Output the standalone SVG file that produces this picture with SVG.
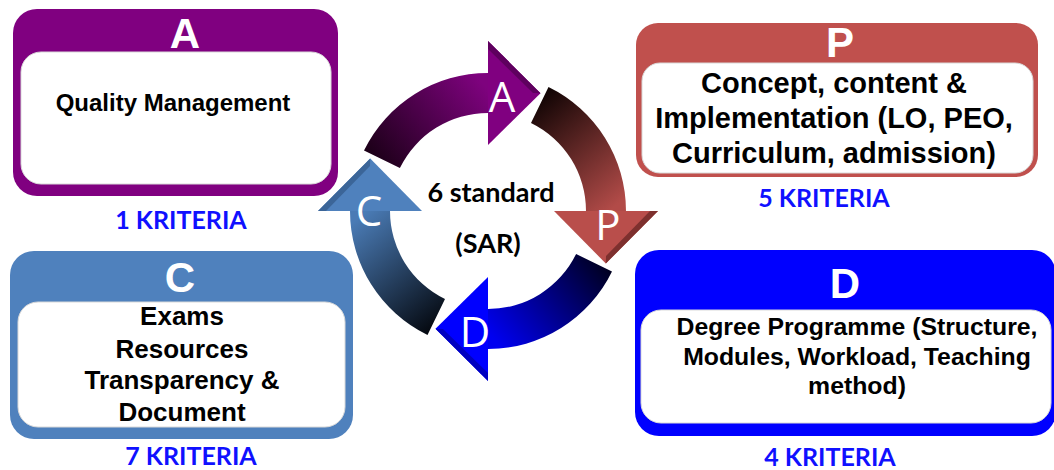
<svg xmlns="http://www.w3.org/2000/svg" width="1054" height="470" viewBox="0 0 1054 470">
<defs>
<style>
.inner{fill:#ffffff;stroke:#d9d9d9;stroke-width:1}
.hdr{font-family:"Liberation Sans",Arial,sans-serif;font-weight:bold;font-size:42px;fill:#ffffff;text-anchor:middle}
.body{font-family:"Liberation Sans",Arial,sans-serif;font-weight:bold;fill:#000000;text-anchor:middle}
.krit{font-family:Lato,"Open Sans",sans-serif;font-weight:bold;font-size:25px;fill:#1010ff;text-anchor:middle}
.cyc{font-family:"Open Sans",Lato,sans-serif;font-size:42px;fill:#ffffff;text-anchor:middle}
.ctr{font-family:Lato,"Open Sans",sans-serif;font-weight:bold;font-size:27px;fill:#000000;text-anchor:middle}
</style>
<linearGradient id="gA" gradientUnits="userSpaceOnUse" x1="375" y1="165" x2="480" y2="80">
<stop offset="0" stop-color="#1a0016"/><stop offset="1" stop-color="#7e027e"/>
</linearGradient>
<linearGradient id="gP" gradientUnits="userSpaceOnUse" x1="375" y1="165" x2="480" y2="80">
<stop offset="0" stop-color="#0e0303"/><stop offset="1" stop-color="#b24b48"/>
</linearGradient>
<linearGradient id="gD" gradientUnits="userSpaceOnUse" x1="375" y1="165" x2="480" y2="80">
<stop offset="0" stop-color="#00001e"/><stop offset="1" stop-color="#0000f0"/>
</linearGradient>
<linearGradient id="gC" gradientUnits="userSpaceOnUse" x1="375" y1="165" x2="480" y2="80">
<stop offset="0" stop-color="#04080f"/><stop offset="1" stop-color="#4a7bb5"/>
</linearGradient>
<path id="arc" d="M 364 150.5 A 138 138 0 0 1 488 73 L 488 113 A 98 98 0 0 0 399.9 168 Z"/>
<path id="head" d="M 488 41 L 540.5 93.2 L 488 145 Z"/>
<path id="bevel" d="M 488 41 L 540.5 93.2 L 533 93 L 488 49 Z"/>
</defs>

<g id="node-A">
<rect x="13" y="9" width="325" height="187" rx="24" fill="#800080"/>
<rect class="inner" x="21" y="52" width="310" height="132" rx="20"/>
<text class="hdr" x="185" y="48">A</text>
<text class="body" x="173" y="111" font-size="24">Quality Management</text>
<text class="krit" x="181" y="229">1 KRITERIA</text>
</g>

<g id="node-P">
<rect x="636" y="23" width="402" height="154" rx="22" fill="#c0504d"/>
<rect class="inner" x="642" y="63" width="391" height="110" rx="18"/>
<text class="hdr" x="840" y="57">P</text>
<text class="body" x="834" y="93" font-size="29">Concept, content &amp;</text>
<text class="body" x="834" y="128" font-size="29">Implementation (LO, PEO,</text>
<text class="body" x="834" y="163" font-size="29">Curriculum, admission)</text>
<text class="krit" x="824" y="207">5 KRITERIA</text>
</g>

<g id="node-C">
<rect x="10" y="251" width="343" height="188" rx="24" fill="#4f81bd"/>
<rect class="inner" x="18" y="302" width="327" height="125" rx="20"/>
<text class="hdr" x="180" y="292" font-size="40">C</text>
<text class="body" x="182" y="325" font-size="26">Exams</text>
<text class="body" x="182" y="358" font-size="26">Resources</text>
<text class="body" x="182" y="389" font-size="26">Transparency &amp;</text>
<text class="body" x="182" y="421" font-size="26">Document</text>
<text class="krit" x="191" y="465">7 KRITERIA</text>
</g>

<g id="node-D">
<rect x="635" y="250" width="421" height="186" rx="24" fill="#0000ff"/>
<rect class="inner" x="641" y="310" width="410" height="113" rx="20"/>
<text class="hdr" x="845" y="298">D</text>
<text class="body" x="857" y="335" font-size="24.8">Degree Programme (Structure,</text>
<text class="body" x="857" y="365" font-size="24.8">Modules, Workload, Teaching</text>
<text class="body" x="857" y="394" font-size="24.8">method)</text>
<text class="krit" x="830" y="466">4 KRITERIA</text>
</g>

<g id="connectors">
<g id="arrow-A">
<use href="#arc" fill="url(#gA)"/>
<use href="#head" fill="#800080"/>
<use href="#bevel" fill="#5e005e"/>
</g>
<g id="arrow-P" transform="rotate(90 488 211)">
<use href="#arc" fill="url(#gP)"/>
<use href="#head" fill="#b94e4b"/>
<use href="#bevel" fill="#7d302e"/>
</g>
<g id="arrow-D" transform="rotate(180 488 211)">
<use href="#arc" fill="url(#gD)"/>
<use href="#head" fill="#0000ff"/>
<use href="#bevel" fill="#0000c0"/>
</g>
<g id="arrow-C" transform="rotate(270 488 211)">
<use href="#arc" fill="url(#gC)"/>
<use href="#head" fill="#4f81bd"/>
<use href="#bevel" fill="#3b6598"/>
</g>
</g>

<g id="cycle-labels">
<text class="cyc" x="502" y="112">A</text>
<text class="cyc" x="608" y="240">P</text>
<text class="cyc" x="475" y="347">D</text>
<text class="cyc" x="369" y="226">C</text>
<text class="ctr" x="491" y="202">6 standard</text>
<text class="ctr" x="488" y="253">(SAR)</text>
</g>
</svg>
